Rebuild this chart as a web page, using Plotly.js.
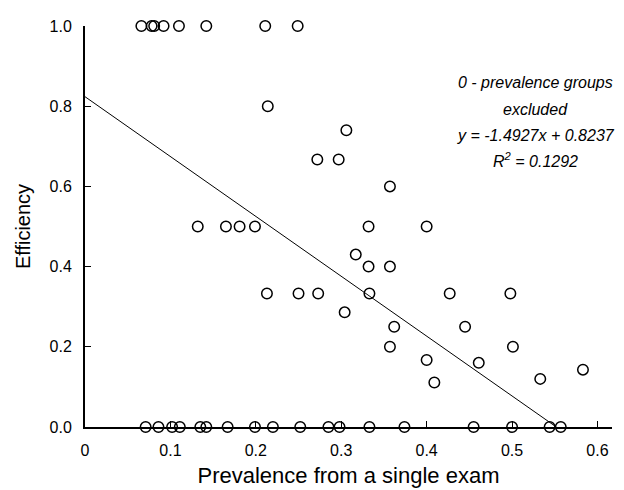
<!DOCTYPE html>
<html>
<head>
<meta charset="utf-8">
<script src="https://cdn.plot.ly/plotly-3.0.1.min.js"></script>
<style>html,body{margin:0;padding:0;background:#fff;}#chart{width:624px;height:490px;}</style>
</head>
<body>
<div id="chart"></div>
<script>
// Prevalence from a single exam (x) and efficiency (y) of each group
const prevalence = [
  0.066, 0.078, 0.081, 0.092, 0.110, 0.142, 0.211, 0.249,
  0.214, 0.306, 0.272, 0.297, 0.357,
  0.132, 0.165, 0.181, 0.199, 0.332, 0.400,
  0.317, 0.332, 0.357,
  0.213, 0.250, 0.273, 0.333, 0.427, 0.498,
  0.304, 0.362, 0.445, 0.357, 0.501,
  0.400, 0.461, 0.409, 0.533, 0.583,
  0.071, 0.086, 0.102, 0.111, 0.135, 0.142, 0.167, 0.199, 0.220,
  0.252, 0.285, 0.298, 0.333, 0.374, 0.455, 0.500, 0.544, 0.557
];
const efficiency = [
  1.0, 1.0, 1.0, 1.0, 1.0, 1.0, 1.0, 1.0,
  0.8, 0.74, 0.667, 0.667, 0.6,
  0.5, 0.5, 0.5, 0.5, 0.5, 0.5,
  0.43, 0.4, 0.4,
  0.333, 0.333, 0.333, 0.333, 0.333, 0.333,
  0.286, 0.25, 0.25, 0.2, 0.2,
  0.167, 0.16, 0.111, 0.12, 0.143,
  0, 0, 0, 0, 0, 0, 0, 0, 0,
  0, 0, 0, 0, 0, 0, 0, 0, 0
];
// Regression line (0-prevalence groups excluded)
const slope = -1.4927;
const intercept = 0.8237;
const fitX = [0, 0.5518];
const fitY = fitX.map(x => slope * x + intercept);

const xTickVals = [0, 0.1, 0.2, 0.3, 0.4, 0.5, 0.6];
const xTickText = ['0', '0.1', '0.2', '0.3', '0.4', '0.5', '0.6'];
const yTickVals = [0, 0.2, 0.4, 0.6, 0.8, 1.0];
const yTickText = ['0.0', '0.2', '0.4', '0.6', '0.8', '1.0'];

const annotationLines = [
  '0 - prevalence groups',
  'excluded',
  'y = -1.4927x + 0.8237',
  'R<sup>2</sup> = 0.1292'
];
const annY = [0.858, 0.791, 0.728, 0.666];

const fontFam = 'Arial, "Liberation Sans", Helvetica, sans-serif';

const traces = [
  {
    x: fitX, y: fitY, type: 'scatter', mode: 'lines',
    line: {color: '#000', width: 1}, hoverinfo: 'skip', cliponaxis: false
  },
  {
    x: prevalence, y: efficiency, type: 'scatter', mode: 'markers',
    marker: {symbol: 'circle-open', size: 10.5, color: '#000', line: {color: '#000', width: 1.5}},
    cliponaxis: false
  }
];

const layout = {
  width: 624, height: 490,
  margin: {l: 85, r: 12, t: 26, b: 63},
  paper_bgcolor: '#fff', plot_bgcolor: '#fff',
  showlegend: false,
  font: {family: fontFam, size: 16, color: '#000'},
  xaxis: {
    range: [0, 0.617], fixedrange: true,
    showline: true, linecolor: '#000', linewidth: 1.5,
    showgrid: false, zeroline: false,
    ticks: 'inside', ticklen: 6, tickwidth: 1, tickcolor: '#000',
    tickvals: xTickVals, ticktext: xTickText,
    tickfont: {family: fontFam, size: 16, color: '#000'},
    ticklabelstandoff: 8,
    title: {text: 'Prevalence from a single exam', font: {family: fontFam, size: 22, color: '#000'}, standoff: 10}
  },
  yaxis: {
    range: [0, 1.0], fixedrange: true,
    showline: true, linecolor: '#000', linewidth: 2,
    showgrid: false, zeroline: false,
    ticks: 'inside', ticklen: 6, tickwidth: 1, tickcolor: '#000',
    tickvals: yTickVals, ticktext: yTickText,
    tickfont: {family: fontFam, size: 16, color: '#000'},
    ticklabelstandoff: 8,
    title: {text: 'Efficiency', font: {family: fontFam, size: 20, color: '#000'}, standoff: 14}
  },
  annotations: annotationLines.map((t, i) => ({
    text: t, x: 0.5275, y: annY[i], xref: 'x', yref: 'y',
    showarrow: false, xanchor: 'center', yanchor: 'middle',
    font: {family: fontFam, size: 16, color: '#000', style: 'italic'}
  }))
};

Plotly.newPlot('chart', traces, layout, {displayModeBar: false, staticPlot: true});
</script>
</body>
</html>
